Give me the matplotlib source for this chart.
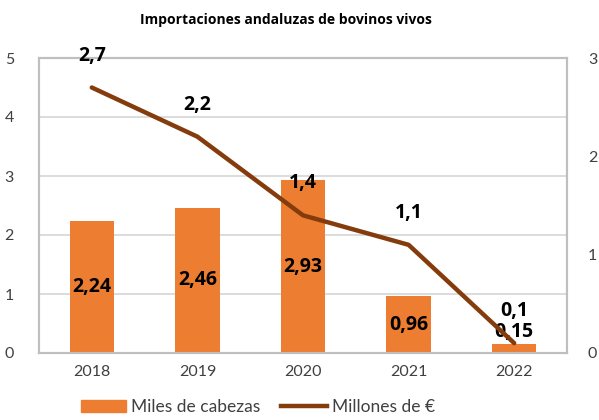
import matplotlib.pyplot as plt
import numpy as np
from matplotlib.patches import Patch
from matplotlib.lines import Line2D

years = ["2018", "2019", "2020", "2021", "2022"]
cabezas = [2.24, 2.46, 2.93, 0.96, 0.15]   # miles de cabezas (eje izq.)
millones = [2.7, 2.2, 1.4, 1.1, 0.1]       # millones de euros (eje dcho.)

bar_color = "#ED7D31"
line_color = "#843C0C"
grid_color = "#D9D9D9"
txt_color = "#404040"
tick_font = "Lato"
label_font = "Open Sans"

fig = plt.figure(figsize=(5.99, 4.2), dpi=100)
ax = fig.add_axes([39 / 599, 67 / 420, 528 / 599, 295 / 420])
ax2 = ax.twinx()

x = np.arange(len(years))
ax.bar(x, cabezas, width=0.42, color=bar_color, zorder=2)
ax.set_xlim(-0.5, len(years) - 0.5)
ax.set_ylim(0, 5)
ax.set_yticks(range(0, 6))
ax.yaxis.grid(True, color=grid_color, linewidth=1.3, zorder=0)
ax.set_axisbelow(True)
ax.set_xticks(x)
ax.set_xticklabels(years)

ax2.plot(x, millones, color=line_color, linewidth=3.2, solid_capstyle="round", zorder=3)
ax2.set_ylim(0, 3)
ax2.set_yticks(range(0, 4))

for a in (ax, ax2):
    for s in a.spines.values():
        s.set_color("#BFBFBF")
        s.set_linewidth(1.5)
    a.tick_params(length=0, labelsize=11.5, colors=txt_color)
    for lab in a.get_xticklabels() + a.get_yticklabels():
        lab.set_fontfamily(tick_font)
ax.tick_params(axis="y", pad=18)
ax.tick_params(axis="x", pad=9)
ax2.tick_params(axis="y", pad=15)

# etiquetas de las barras
for xi, v in zip(x, cabezas):
    ypos = v / 2 if v > 0.5 else v + 0.21
    ax.text(xi, ypos, f"{v:.2f}".replace(".", ","), ha="center", va="center",
            fontsize=14, fontweight="bold", fontfamily=label_font, color="black", zorder=5)

# etiquetas de la línea
for xi, v in zip(x, millones):
    ax2.annotate(f"{v:.1f}".replace(".", ","), (xi, v), xytext=(0, 23),
                 textcoords="offset points", ha="center", va="center",
                 fontsize=14, fontweight="bold", fontfamily=label_font, color="black", zorder=5)

fig.text(286 / 599, 1 - 20 / 420, "Importaciones andaluzas de bovinos vivos",
         ha="center", va="center", fontsize=10, fontweight="bold",
         fontfamily=label_font, color="black")

handles = [Patch(color=bar_color), Line2D([0], [0], color=line_color, linewidth=3.2)]
leg = fig.legend(handles, ["Miles de cabezas", "Millones de €"], loc="center",
                 bbox_to_anchor=(258 / 599, 13 / 420), ncol=2, frameon=False,
                 prop={"family": tick_font, "size": 12.5}, handlelength=2.6,
                 handletextpad=0.3, columnspacing=1.2)
for t in leg.get_texts():
    t.set_color(txt_color)

fig.savefig("out.png", dpi=100)
